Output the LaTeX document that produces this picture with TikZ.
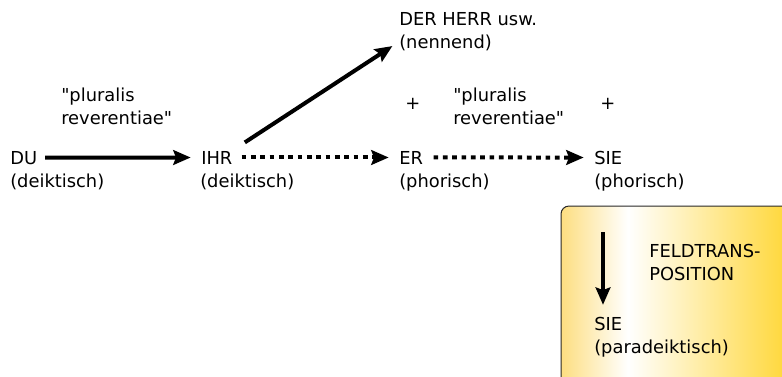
\documentclass[tikz,border=0pt]{standalone}
\usepackage{fontspec}
\setmainfont{DejaVu Sans}
\usetikzlibrary{arrows.meta}
\definecolor{goldleft}{RGB}{253,222,128}
\definecolor{goldright}{RGB}{255,212,42}
\definecolor{boxline}{RGB}{40,40,40}
\pgfdeclarehorizontalshading{feldshade}{100bp}{color(0bp)=(goldleft); color(25bp)=(goldleft); color(39bp)=(white); color(75bp)=(goldright); color(100bp)=(goldright)}
\tikzset{
  txt/.style={anchor=base west, inner sep=0.75pt, align=left, font=\fontsize{13.4}{17.25}\selectfont},
  bigarrow/.style={line width=3pt, -{Stealth[length=13pt, width=11pt, inset=2pt]}},
  dotarrow/.style={bigarrow, dash pattern=on 3.5pt off 3.5pt}
}
\begin{document}
\begin{tikzpicture}[x=0.75pt,y=0.75pt,yscale=-1,xscale=1]
\useasboundingbox (0,0) rectangle (782,376);
\clip (0,0) rectangle (782,376);

% Feldtransposition box
\shade [shading=feldshade, draw=boxline, line width=0.75pt, rounded corners=6pt] (561,206) rectangle (800,400);

% Text Node
\node [txt] (du) at (9,164) {DU};
\node [txt] (duinfo) at (9,187) {(deiktisch)};
% Text Node
\node [txt] (ihr) at (200,164) {IHR};
\node [txt] (ihrinfo) at (199,187) {(deiktisch)};
% Text Node
\node [txt] (er) at (398,164) {ER};
\node [txt] (erinfo) at (398,187) {(phorisch)};
% Text Node
\node [txt] (sie) at (593,164) {SIE};
\node [txt] (sieinfo) at (593,187) {(phorisch)};
% Text Node
\node [txt] (herr) at (398,25) {DER HERR usw.};
\node [txt] (nennend) at (398,48) {(nennend)};
% Text Node (base = last line)
\node [txt] (plurA) at (60,124) {\textquotedbl pluralis\\reverentiae\textquotedbl};
\node [txt] (plurB) at (452,124) {\textquotedbl pluralis\\reverentiae\textquotedbl};
\node [txt] (plusA) at (404,109) {+};
\node [txt] (plusB) at (599,109) {+};
% Text Node
\node [txt] (feld) at (648,280) {FELDTRANS-\\POSITION};
\node [txt] (siepara) at (593,330) {SIE};
\node [txt] (parainfo) at (593,353) {(paradeiktisch)};

% Connection
\draw [bigarrow, shorten <=5pt, shorten >=7pt] (du.east) -- (ihr.west);
\draw [dotarrow, shorten <=6pt, shorten >=7pt] (ihr.east) -- (er.west);
\draw [dotarrow, shorten <=7pt, shorten >=7pt] (er.east) -- (sie.west);
\draw [bigarrow, shorten <=10pt, shorten >=5pt] (ihr.north east) -- (nennend.west);
\coordinate (feldtop) at (603,232);
\draw [bigarrow, shorten >=8pt] (feldtop) -- (feldtop |- siepara.north);

\end{tikzpicture}
\end{document}
